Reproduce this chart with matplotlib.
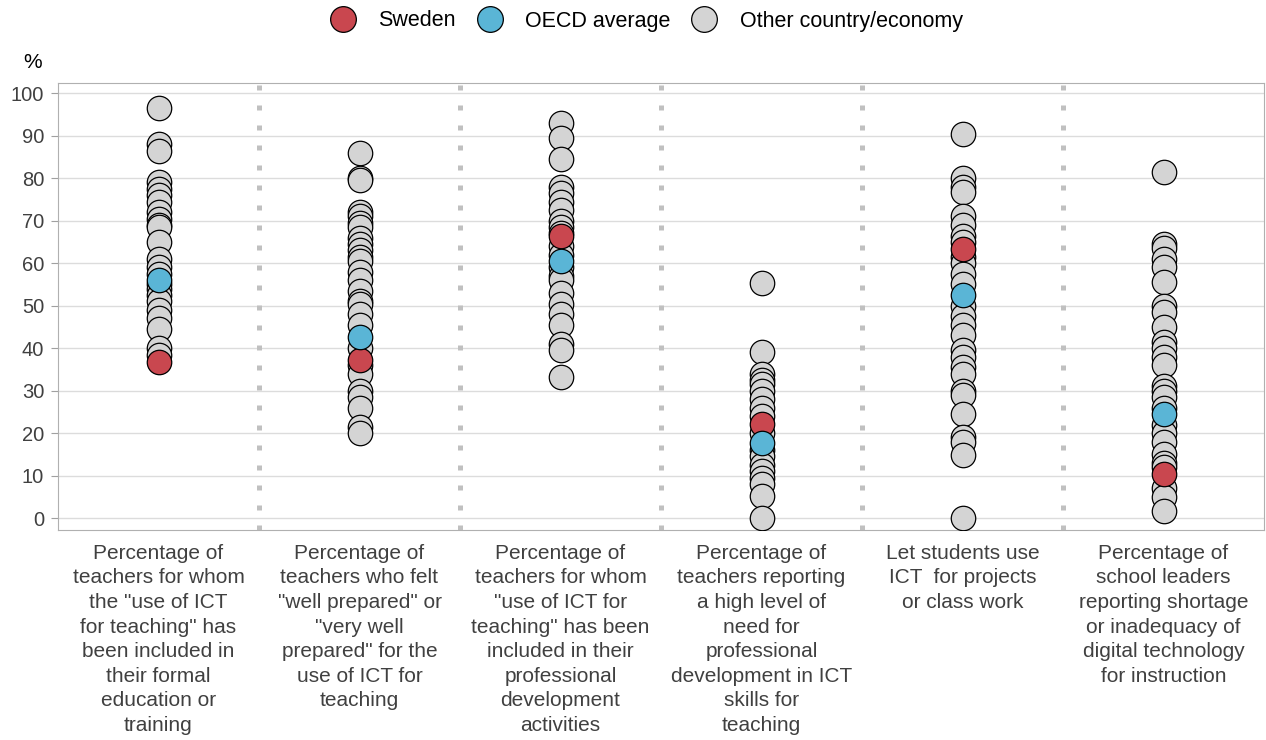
import numpy as np
import matplotlib.pyplot as plt
from matplotlib.lines import Line2D

plt.rcParams['font.family'] = ['Liberation Sans', 'DejaVu Sans']

# column labels
categories = [
    'Percentage of\nteachers for whom\nthe "use of ICT\nfor teaching" has\nbeen included in\ntheir formal\neducation or\ntraining',
    'Percentage of\nteachers who felt\n"well prepared" or\n"very well\nprepared" for the\nuse of ICT for\nteaching',
    'Percentage of\nteachers for whom\n"use of ICT for\nteaching" has been\nincluded in their\nprofessional\ndevelopment\nactivities',
    'Percentage of\nteachers reporting\na high level of\nneed for\nprofessional\ndevelopment in ICT\nskills for\nteaching',
    'Let students use\nICT  for projects\nor class work',
    'Percentage of\nschool leaders\nreporting shortage\nor inadequacy of\ndigital technology\nfor instruction',
]

other_1 = [96.5, 88, 86.5, 79, 77.5, 76, 74.5, 72, 70.5, 69, 68.5, 65, 61, 59, 57.5,
           55, 54, 52.5, 51, 49, 47, 44.5, 40, 38.5]
other_2 = [86, 80, 79.5, 72, 71, 69.5, 68.5, 66, 64.5, 63, 61.5, 60.5, 58, 56, 53.5,
           51, 50.5, 48, 45.5, 40, 36, 34, 30, 28.5, 26, 21.5, 20]
other_3 = [93, 89.5, 84.5, 78, 76.5, 74.5, 72.5, 70, 68.5, 67, 64, 62, 59, 57, 56,
           53, 50.5, 48, 45.5, 41, 39.5, 33.2]
other_4 = [55.3, 39, 34, 32.5, 31.5, 30, 28, 26, 24, 20, 16, 14.5, 12.5, 11, 9.5,
           8, 5.3, 0]
other_5 = [90.3, 80, 78, 76.8, 71, 69, 66.5, 65, 61.5, 60, 57.5, 55, 50, 47.5, 45.5,
           43, 39.5, 38, 35.5, 34, 30, 29, 24.5, 19, 18, 14.8, 0]
other_6 = [81.5, 64.5, 63.5, 61, 59, 55.5, 50, 48.5, 45, 41.5, 40, 38, 36, 31, 30,
           28.5, 26, 22, 20, 18, 15, 13, 12, 7, 5, 1.7]
others = [other_1, other_2, other_3, other_4, other_5, other_6]

sweden = [36.8, 37.2, 66.5, 22.2, 63.4, 10.3]
oecd = [56.0, 42.7, 60.5, 17.7, 52.5, 24.5]

c_swe = '#c9474f'
c_oecd = '#5ab5d6'
c_other = '#d4d4d4'
txt = '#404040'

fig = plt.figure(figsize=(12.66, 7.40), dpi=100)
ax = fig.add_axes([58 / 1266, 1 - 530 / 740, (1264 - 58) / 1266, (530 - 83) / 740])

ms = 310
for i, vals in enumerate(others):
    ax.scatter([i] * len(vals), vals, s=ms, c=c_other, edgecolors='black',
               linewidths=0.9, zorder=3)
ax.scatter(range(6), sweden, s=ms, c=c_swe, edgecolors='black', linewidths=0.9, zorder=4)
ax.scatter(range(6), oecd, s=ms, c=c_oecd, edgecolors='black', linewidths=0.9, zorder=5)

# dotted separators
for xs in np.arange(0.5, 5.5, 1):
    ax.axvline(xs, color='#c0c0c0', linewidth=3.6, linestyle=(0, (1, 3)),
               dash_capstyle='butt', zorder=2)

ax.set_xlim(-0.5, 5.5)
ax.set_ylim(-2.8, 102.4)
ax.set_yticks(range(0, 101, 10))
ax.yaxis.grid(True, color='#dcdcdc', linewidth=1)
ax.set_axisbelow(True)
ax.set_xticks(range(6))
ax.set_xticklabels(categories, fontsize=15, color=txt, linespacing=1.37)
ax.tick_params(axis='x', length=0, pad=10)
ax.tick_params(axis='y', length=5, color='#a0a0a0', labelsize=14.5, labelcolor=txt, pad=5)
for sp in ax.spines.values():
    sp.set_color('#b0b0b0')

fig.text(33 / 1266, 1 - 62 / 740, '%', fontsize=15, color='black', ha='center', va='center')

handles = [
    Line2D([], [], marker='o', linestyle='', markersize=18.5, markerfacecolor=c_swe,
           markeredgecolor='black', markeredgewidth=0.9),
    Line2D([], [], marker='o', linestyle='', markersize=18.5, markerfacecolor=c_oecd,
           markeredgecolor='black', markeredgewidth=0.9),
    Line2D([], [], marker='o', linestyle='', markersize=18.5, markerfacecolor=c_other,
           markeredgecolor='black', markeredgewidth=0.9),
]
fig.legend(handles, ['Sweden', 'OECD average', 'Other country/economy'], ncol=3,
           loc='center', bbox_to_anchor=(642 / 1266, 1 - 21 / 740), frameon=False,
           fontsize=15.5, handletextpad=0.65, columnspacing=0.58, labelcolor='black')

plt.savefig('out.png', dpi=100, facecolor='white')
